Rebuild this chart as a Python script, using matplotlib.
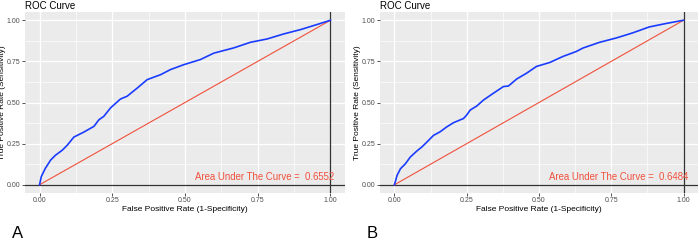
import matplotlib.pyplot as plt
import numpy as np

plt.rcParams['font.family'] = ['Liberation Sans', 'DejaVu Sans']

# ROC curve points
fpr_a = [0, 0.006, 0.02, 0.038, 0.055, 0.078, 0.095, 0.118, 0.152, 0.187, 0.204, 0.221,
         0.244, 0.278, 0.301, 0.336, 0.37, 0.416, 0.45, 0.496, 0.553, 0.599, 0.668,
         0.725, 0.782, 0.84, 0.897, 0.954, 1.0]
tpr_a = [0, 0.05, 0.10, 0.15, 0.18, 0.21, 0.24, 0.29, 0.32, 0.355, 0.395, 0.416,
         0.467, 0.521, 0.538, 0.588, 0.639, 0.669, 0.70, 0.73, 0.761, 0.80, 0.832,
         0.866, 0.886, 0.917, 0.943, 0.974, 1.0]
fpr_b = [0, 0.009, 0.021, 0.038, 0.055, 0.078, 0.095, 0.113, 0.135, 0.158, 0.181, 0.204,
         0.239, 0.25, 0.262, 0.285, 0.308, 0.342, 0.377, 0.394, 0.423, 0.457, 0.491,
         0.537, 0.583, 0.629, 0.652, 0.71, 0.767, 0.824, 0.881, 0.939, 1.0]
tpr_b = [0, 0.057, 0.098, 0.128, 0.169, 0.206, 0.23, 0.261, 0.30, 0.322, 0.352, 0.377,
         0.403, 0.424, 0.454, 0.479, 0.515, 0.556, 0.597, 0.60, 0.643, 0.678, 0.719,
         0.743, 0.78, 0.81, 0.831, 0.866, 0.892, 0.923, 0.959, 0.98, 1.0]
auc_values = [0.6552, 0.6484]
panel_letters = ["A", "B"]
ticks = [0, 0.25, 0.5, 0.75, 1.0]
tick_labels = ["0.00", "0.25", "0.50", "0.75", "1.00"]

W, H = 700, 244
fig = plt.figure(figsize=(W / 100, H / 100), dpi=100)

# panel boxes in pixels: left, right, top, bottom
boxes = [(25, 345, 12, 193), (380, 698, 12, 193)]
curves = [(fpr_a, tpr_a), (fpr_b, tpr_b)]

for (l, r, t, b), (fx, ty), auc, letter in zip(boxes, curves, auc_values, panel_letters):
    ax = fig.add_axes([l / W, (H - b) / H, (r - l) / W, (b - t) / H])
    ax.set_facecolor("#EBEBEB")
    ax.set_xlim(-0.05, 1.05)
    ax.set_ylim(-0.05, 1.05)
    for s in ax.spines.values():
        s.set_visible(False)
    ax.set_xticks(ticks)
    ax.set_xticklabels(tick_labels)
    ax.set_yticks(ticks)
    ax.set_yticklabels(tick_labels)
    ax.set_xticks([0.125, 0.375, 0.625, 0.875], minor=True)
    ax.set_yticks([0.125, 0.375, 0.625, 0.875], minor=True)
    ax.grid(which="major", color="white", linewidth=0.9)
    ax.grid(which="minor", color="white", linewidth=0.45)
    ax.set_axisbelow(True)
    ax.tick_params(which="major", length=2, width=0.6, color="#333333",
                   labelsize=5, labelcolor="#4D4D4D", pad=1.2)
    ax.tick_params(which="minor", length=0)

    ax.axhline(0, color="#333333", linewidth=0.9)
    ax.axvline(1, color="#333333", linewidth=0.9)
    ax.plot([0, 1], [0, 1], color="#F0503C", linewidth=0.8)
    ax.plot(fx, ty, color="#1A3CFF", linewidth=1.2)
    ax.text(0.775, 0.045, f"Area Under The Curve =  {auc:.4f}", color="#F0503C",
            fontsize=6.9, ha="center", va="center")

    ax.set_xlabel("False Positive Rate (1-Specificity)", fontsize=6, labelpad=1)
    ax.set_ylabel("True Positive Rate (Sensitivity)", fontsize=6, labelpad=0.8)
    ax.set_title("ROC Curve", fontsize=7, loc="left", pad=2.5)

    fig.text((l - 13) / W, (H - 233) / H, letter, fontsize=12, ha="left", va="center")

plt.savefig("out.png", dpi=100)
plt.close()
